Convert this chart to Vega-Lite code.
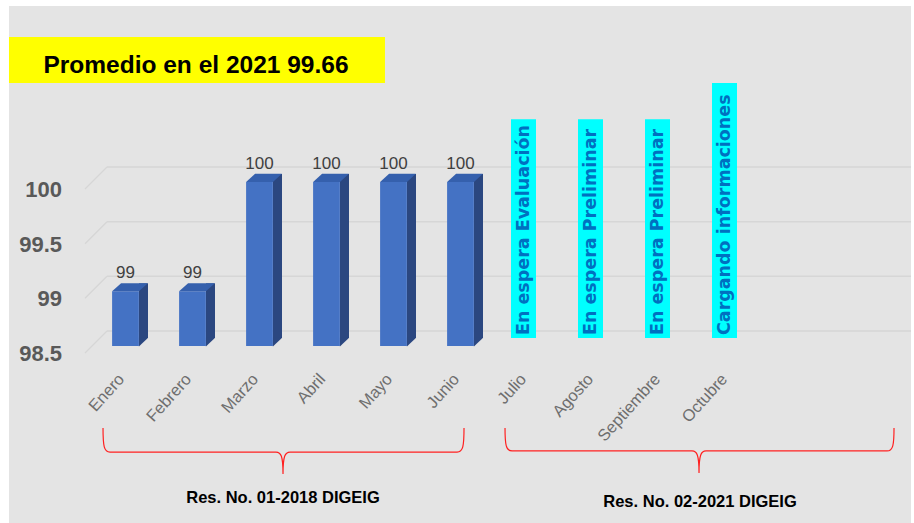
{
  "$schema": "https://vega.github.io/schema/vega-lite/v6.json",
  "width": 804,
  "height": 164,
  "autosize": {"type": "none"},
  "padding": {"left": 92, "top": 182, "right": 18, "bottom": 177},
  "background": "#e4e4e4",
  "config": {"view": {"stroke": null}},
  "datasets": {
    "meses": [
      {"mes": "Enero", "valor": 99, "estado": null},
      {"mes": "Febrero", "valor": 99, "estado": null},
      {"mes": "Marzo", "valor": 100, "estado": null},
      {"mes": "Abril", "valor": 100, "estado": null},
      {"mes": "Mayo", "valor": 100, "estado": null},
      {"mes": "Junio", "valor": 100, "estado": null},
      {"mes": "Julio", "valor": null, "estado": "En espera Evaluación"},
      {"mes": "Agosto", "valor": null, "estado": "En espera Preliminar"},
      {"mes": "Septiembre", "valor": null, "estado": "En espera Preliminar"},
      {"mes": "Octubre", "valor": null, "estado": "Cargando informaciones"}
    ],
    "ticks": [{"t": 98.5}, {"t": 99}, {"t": 99.5}, {"t": 100}]
  },
  "layer": [
    {
      "layer": [
        {
          "data": {"values": [{}]},
          "mark": {"type": "rect", "color": "#ffffff"},
          "encoding": {
            "x": {"datum": -0.9, "type": "quantitative", "scale": {"domain": [0.5, 12.5], "nice": false, "zero": false}, "axis": null},
            "x2": {"datum": 12.8},
            "y": {"datum": 101.7, "type": "quantitative", "scale": {"domain": [98.5, 100], "nice": false, "zero": false}, "axis": null},
            "y2": {"datum": 101.61}
          }
        },
        {
          "data": {"values": [{}]},
          "mark": {"type": "rect", "color": "#ffffff"},
          "encoding": {
            "x": {"datum": -0.9, "type": "quantitative", "scale": {"domain": [0.5, 12.5], "nice": false, "zero": false}, "axis": null},
            "x2": {"datum": -0.739},
            "y": {"datum": 101.7, "type": "quantitative", "scale": {"domain": [98.5, 100], "nice": false, "zero": false}, "axis": null},
            "y2": {"datum": 96.8}
          }
        },
        {
          "data": {"values": [{}]},
          "mark": {"type": "rect", "color": "#ffffff"},
          "encoding": {
            "x": {"datum": 12.724, "type": "quantitative", "scale": {"domain": [0.5, 12.5], "nice": false, "zero": false}, "axis": null},
            "x2": {"datum": 12.8},
            "y": {"datum": 101.7, "type": "quantitative", "scale": {"domain": [98.5, 100], "nice": false, "zero": false}, "axis": null},
            "y2": {"datum": 96.8}
          }
        },
        {
          "data": {"name": "ticks"},
          "mark": {"type": "rule", "color": "#d6d6d6", "strokeWidth": 1.5, "yOffset": -15},
          "encoding": {
            "x": {"datum": 0.724, "type": "quantitative", "scale": {"domain": [0.5, 12.5], "nice": false, "zero": false}, "axis": null},
            "x2": {"datum": 12.724},
            "y": {"field": "t", "type": "quantitative", "scale": {"domain": [98.5, 100], "nice": false, "zero": false}, "axis": null}
          }
        },
        {
          "data": {"name": "ticks"},
          "mark": {"type": "point", "shape": "M-7,7L15,-15", "size": 4, "filled": false, "stroke": "#d6d6d6", "strokeWidth": 1.3, "opacity": 1},
          "encoding": {
            "x": {"datum": 0.5, "type": "quantitative", "scale": {"domain": [0.5, 12.5], "nice": false, "zero": false}, "axis": null},
            "y": {"field": "t", "type": "quantitative", "scale": {"domain": [98.5, 100], "nice": false, "zero": false}, "axis": null}
          }
        },
        {
          "data": {"name": "ticks"},
          "mark": {"type": "text", "align": "right", "baseline": "middle", "dx": -30, "dy": 8, "font": "Liberation Sans", "fontWeight": "bold", "fontSize": 22, "color": "#595959"},
          "encoding": {
            "x": {"datum": 0.5, "type": "quantitative", "scale": {"domain": [0.5, 12.5], "nice": false, "zero": false}, "axis": null},
            "y": {"field": "t", "type": "quantitative", "scale": {"domain": [98.5, 100], "nice": false, "zero": false}, "axis": null},
            "text": {"field": "t", "type": "quantitative", "format": "~g"}
          }
        },
        {
          "data": {"values": [{}]},
          "mark": {"type": "rect", "color": "#ffff00"},
          "encoding": {
            "x": {"datum": -0.739, "type": "quantitative", "scale": {"domain": [0.5, 12.5], "nice": false, "zero": false}, "axis": null},
            "x2": {"datum": 4.873},
            "y": {"datum": 101.326, "type": "quantitative", "scale": {"domain": [98.5, 100], "nice": false, "zero": false}, "axis": null},
            "y2": {"datum": 100.905}
          }
        },
        {
          "data": {"values": [{}]},
          "mark": {"type": "text", "text": "Promedio en el 2021 99.66", "font": "Liberation Sans", "fontWeight": "bold", "fontSize": 24.5, "color": "#000000", "align": "center", "baseline": "alphabetic"},
          "encoding": {
            "x": {"datum": 2.052, "type": "quantitative", "scale": {"domain": [0.5, 12.5], "nice": false, "zero": false}, "axis": null},
            "y": {"datum": 101.0, "type": "quantitative", "scale": {"domain": [98.5, 100], "nice": false, "zero": false}, "axis": null}
          }
        },
        {
          "data": {"values": [{}]},
          "mark": {"type": "point", "shape": "M-180,-24C-180,-6 -179,0 -173,0L-7,0C-2,0 0,4 0,22C0,4 2,0 7,0L174,0C180,0 181,-6 181,-24", "size": 4, "filled": false, "stroke": "#ff2020", "strokeWidth": 1.2, "opacity": 1},
          "encoding": {
            "x": {"datum": 3.351, "type": "quantitative", "scale": {"domain": [0.5, 12.5], "nice": false, "zero": false}, "axis": null},
            "y": {"datum": 97.53, "type": "quantitative", "scale": {"domain": [98.5, 100], "nice": false, "zero": false}, "axis": null}
          }
        },
        {
          "data": {"values": [{}]},
          "mark": {"type": "point", "shape": "M-194,-23C-194,-6 -193,0 -187,0L-7,0C-2,0 0,4 0,22C0,4 2,0 7,0L188,0C194,0 195,-6 195,-23", "size": 4, "filled": false, "stroke": "#ff2020", "strokeWidth": 1.2, "opacity": 1},
          "encoding": {
            "x": {"datum": 9.56, "type": "quantitative", "scale": {"domain": [0.5, 12.5], "nice": false, "zero": false}, "axis": null},
            "y": {"datum": 97.54, "type": "quantitative", "scale": {"domain": [98.5, 100], "nice": false, "zero": false}, "axis": null}
          }
        },
        {
          "data": {"values": [{}]},
          "mark": {"type": "text", "text": "Res. No. 01-2018 DIGEIG", "font": "Liberation Sans", "fontWeight": "bold", "fontSize": 16.5, "color": "#000000", "align": "center", "baseline": "alphabetic"},
          "encoding": {
            "x": {"datum": 3.351, "type": "quantitative", "scale": {"domain": [0.5, 12.5], "nice": false, "zero": false}, "axis": null},
            "y": {"datum": 97.06, "type": "quantitative", "scale": {"domain": [98.5, 100], "nice": false, "zero": false}, "axis": null}
          }
        },
        {
          "data": {"values": [{}]},
          "mark": {"type": "text", "text": "Res. No. 02-2021 DIGEIG", "font": "Liberation Sans", "fontWeight": "bold", "fontSize": 16.5, "color": "#000000", "align": "center", "baseline": "alphabetic"},
          "encoding": {
            "x": {"datum": 9.575, "type": "quantitative", "scale": {"domain": [0.5, 12.5], "nice": false, "zero": false}, "axis": null},
            "y": {"datum": 97.025, "type": "quantitative", "scale": {"domain": [98.5, 100], "nice": false, "zero": false}, "axis": null}
          }
        }
      ]
    },
    {
      "data": {"name": "meses"},
      "encoding": {
        "x": {
          "field": "mes",
          "type": "nominal",
          "sort": null,
          "scale": {"domain": ["Enero", "Febrero", "Marzo", "Abril", "Mayo", "Junio", "Julio", "Agosto", "Septiembre", "Octubre", "Noviembre", "Diciembre"], "paddingInner": 0.6, "paddingOuter": 0.3},
          "axis": {
            "values": ["Enero", "Febrero", "Marzo", "Abril", "Mayo", "Junio", "Julio", "Agosto", "Septiembre", "Octubre"],
            "title": null, "domain": false, "ticks": false, "grid": false, "zindex": 1,
            "labelAngle": -48, "labelAlign": "right", "labelBaseline": "middle",
            "labelPadding": 30, "labelOffset": -4,
            "labelFont": "Liberation Sans",
            "labelFontSize": 16.5, "labelColor": "#6e6e6e"
          }
        }
      },
      "layer": [
        {
          "transform": [{"filter": "isValid(datum.valor)"}],
          "mark": {"type": "bar", "color": "#2b4780", "width": 9, "xOffset": 18, "yOffset": -8, "y2Offset": -8},
          "encoding": {
            "y": {"field": "valor", "type": "quantitative", "scale": {"domain": [98.5, 100], "nice": false, "zero": false}, "axis": null},
            "y2": {"datum": 98.5}
          }
        },
        {
          "transform": [{"filter": "isValid(datum.valor)"}],
          "mark": {"type": "point", "shape": "M13.4,0.5L13.4,-8.2L22.6,-8.2Z", "size": 4, "filled": true, "color": "#2b4780", "strokeWidth": 0, "opacity": 1},
          "encoding": {
            "y": {"datum": 98.5, "type": "quantitative", "scale": {"domain": [98.5, 100], "nice": false, "zero": false}, "axis": null}
          }
        },
        {
          "transform": [{"filter": "isValid(datum.valor)"}],
          "mark": {"type": "bar", "color": "#4472c4"},
          "encoding": {
            "y": {"field": "valor", "type": "quantitative", "scale": {"domain": [98.5, 100], "nice": false, "zero": false}, "axis": null},
            "y2": {"datum": 98.5}
          }
        },
        {
          "transform": [{"filter": "isValid(datum.valor)"}],
          "mark": {"type": "point", "shape": "M-13.4,0L13.4,0L22.4,-8.2L-4.4,-8.2Z", "size": 4, "filled": true, "color": "#3560ad", "strokeWidth": 0, "opacity": 1},
          "encoding": {
            "y": {"field": "valor", "type": "quantitative", "scale": {"domain": [98.5, 100], "nice": false, "zero": false}, "axis": null}
          }
        },
        {
          "transform": [{"filter": "isValid(datum.valor)"}],
          "mark": {"type": "text", "dy": -18, "font": "Liberation Sans", "fontSize": 17, "color": "#404040", "baseline": "middle"},
          "encoding": {
            "y": {"field": "valor", "type": "quantitative", "scale": {"domain": [98.5, 100], "nice": false, "zero": false}, "axis": null},
            "text": {"field": "valor", "type": "quantitative"}
          }
        },
        {
          "transform": [{"filter": "isValid(datum.estado) && datum.mes !== 'Octubre'"}],
          "mark": {"type": "bar", "color": "#00ffff", "width": 25, "xOffset": -4},
          "encoding": {
            "y": {"datum": 98.573, "type": "quantitative", "scale": {"domain": [98.5, 100], "nice": false, "zero": false}, "axis": null},
            "y2": {"datum": 100.575}
          }
        },
        {
          "transform": [{"filter": "datum.mes === 'Octubre'"}],
          "mark": {"type": "bar", "color": "#00ffff", "width": 25, "xOffset": -4},
          "encoding": {
            "y": {"datum": 98.573, "type": "quantitative", "scale": {"domain": [98.5, 100], "nice": false, "zero": false}, "axis": null},
            "y2": {"datum": 100.905}
          }
        },
        {
          "transform": [{"filter": "isValid(datum.estado)"}],
          "mark": {"type": "text", "angle": 270, "align": "left", "baseline": "middle", "dx": 3, "xOffset": -4, "font": "DejaVu Sans", "fontWeight": "bold", "fontSize": 17.5, "color": "#0070c0"},
          "encoding": {
            "y": {"datum": 98.573, "type": "quantitative", "scale": {"domain": [98.5, 100], "nice": false, "zero": false}, "axis": null},
            "text": {"field": "estado", "type": "nominal"}
          }
        }
      ]
    }
  ],
  "resolve": {"scale": {"x": "independent"}}
}
